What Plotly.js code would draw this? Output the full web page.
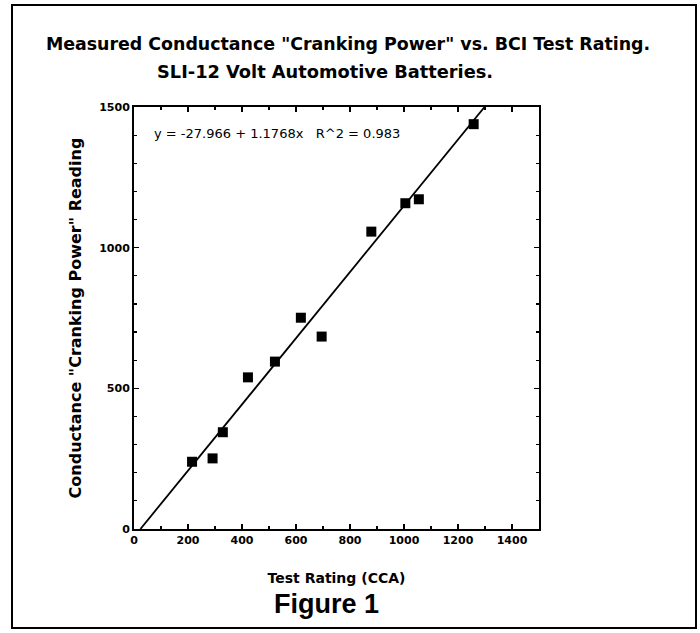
<!DOCTYPE html>
<html>
<head>
<meta charset="utf-8">
<script src="https://cdn.plot.ly/plotly-3.0.1.min.js"></script>
<style>html,body{margin:0;padding:0;background:#fff;}#chart{width:700px;height:633px;}</style>
</head>
<body>
<div id="chart"></div>
<script>
// Data
const testRatingCCA = [215, 291, 329, 422, 522, 618, 695, 879, 1005, 1055, 1258];
const conductanceReading = [239, 251, 344, 539, 595, 751, 684, 1057, 1158, 1172, 1439];
const fitIntercept = -27.966;
const fitSlope = 1.1768;
const fitR2 = 0.983;
const xTickVals = [0, 200, 400, 600, 800, 1000, 1200, 1400];
const yTickVals = [0, 500, 1000, 1500];
const titleLine1 = 'Measured Conductance "Cranking Power" vs. BCI Test Rating.';
const titleLine2 = 'SLI-12 Volt Automotive Batteries.';

// Regression line across the visible range (y from 0 to 1500)
const yMin = 0, yMax = 1500;
const fitX = [(yMin - fitIntercept) / fitSlope, (yMax - fitIntercept) / fitSlope];
const fitY = fitX.map(x => fitIntercept + fitSlope * x);

const F = 'DejaVu Sans, sans-serif';
const plotL = 134, plotR = 539, plotT = 107, plotB = 529;
const W = 700, H = 633;
const pw = plotR - plotL, ph = plotB - plotT;
const px = v => (v - plotL) / pw;
const py = v => (plotB - v) / ph;

const traces = [
  {x: fitX, y: fitY, mode: 'lines', type: 'scatter', line: {color: '#000', width: 1.8}, hoverinfo: 'skip', showlegend: false},
  {x: testRatingCCA, y: conductanceReading, mode: 'markers', type: 'scatter',
   marker: {symbol: 'square', size: 10, color: '#000'}, showlegend: false}
];

const axisCommon = {
  showgrid: false, zeroline: false, showline: true, linecolor: '#000', linewidth: 2,
  mirror: 'ticks', ticks: 'inside', ticklen: 5, tickwidth: 1.5, tickcolor: '#000',
  tickfont: {family: F, size: 11, color: '#000', weight: 'bold'},
  minor: {dtick: 100, ticks: 'inside', ticklen: 3, tickwidth: 1.2, tickcolor: '#000'},
  fixedrange: true
};

const layout = {
  width: W, height: H,
  margin: {l: plotL, r: W - plotR, t: plotT, b: H - plotB},
  paper_bgcolor: '#fff', plot_bgcolor: '#fff',
  title: {text: titleLine1, font: {family: F, size: 17.4, color: '#000', weight: 'bold'},
          xref: 'paper', x: px(348), xanchor: 'center', yref: 'container', y: 1 - 44 / H, yanchor: 'middle'},
  xaxis: Object.assign({}, axisCommon, {
    range: [0, 1500], tickvals: xTickVals,
    title: {text: 'Test Rating (CCA)', font: {family: F, size: 14, color: '#000', weight: 'bold'}, standoff: 27}
  }),
  yaxis: Object.assign({}, axisCommon, {
    range: [0, 1500], tickvals: yTickVals,
    title: {text: 'Conductance "Cranking Power" Reading', font: {family: F, size: 16, color: '#000', weight: 'bold'}, standoff: 14}
  }),
  annotations: [
    {text: titleLine2, xref: 'paper', yref: 'paper', x: px(325), y: py(71), xanchor: 'center', yanchor: 'middle',
     showarrow: false, font: {family: F, size: 17.8, color: '#000', weight: 'bold'}},
    {text: 'y = -27.966 + 1.1768x   R^2 = ' + fitR2.toFixed(3), xref: 'paper', yref: 'paper', x: px(152), y: py(133),
     xanchor: 'left', yanchor: 'middle', showarrow: false, font: {family: F, size: 13, color: '#000'}},
    {text: 'Figure 1', xref: 'paper', yref: 'paper', x: px(326), y: py(604), xanchor: 'center', yanchor: 'middle',
     showarrow: false, font: {family: 'Liberation Sans, Arial, sans-serif', size: 27, color: '#000', weight: 'bold'}}
  ],
  shapes: [
    {type: 'rect', xref: 'paper', yref: 'paper', x0: px(12), x1: px(696), y0: py(628), y1: py(5),
     line: {color: '#000', width: 2}, fillcolor: 'rgba(0,0,0,0)', layer: 'below'}
  ]
};

Plotly.newPlot('chart', traces, layout, {displayModeBar: false, staticPlot: true});
</script>
</body>
</html>
